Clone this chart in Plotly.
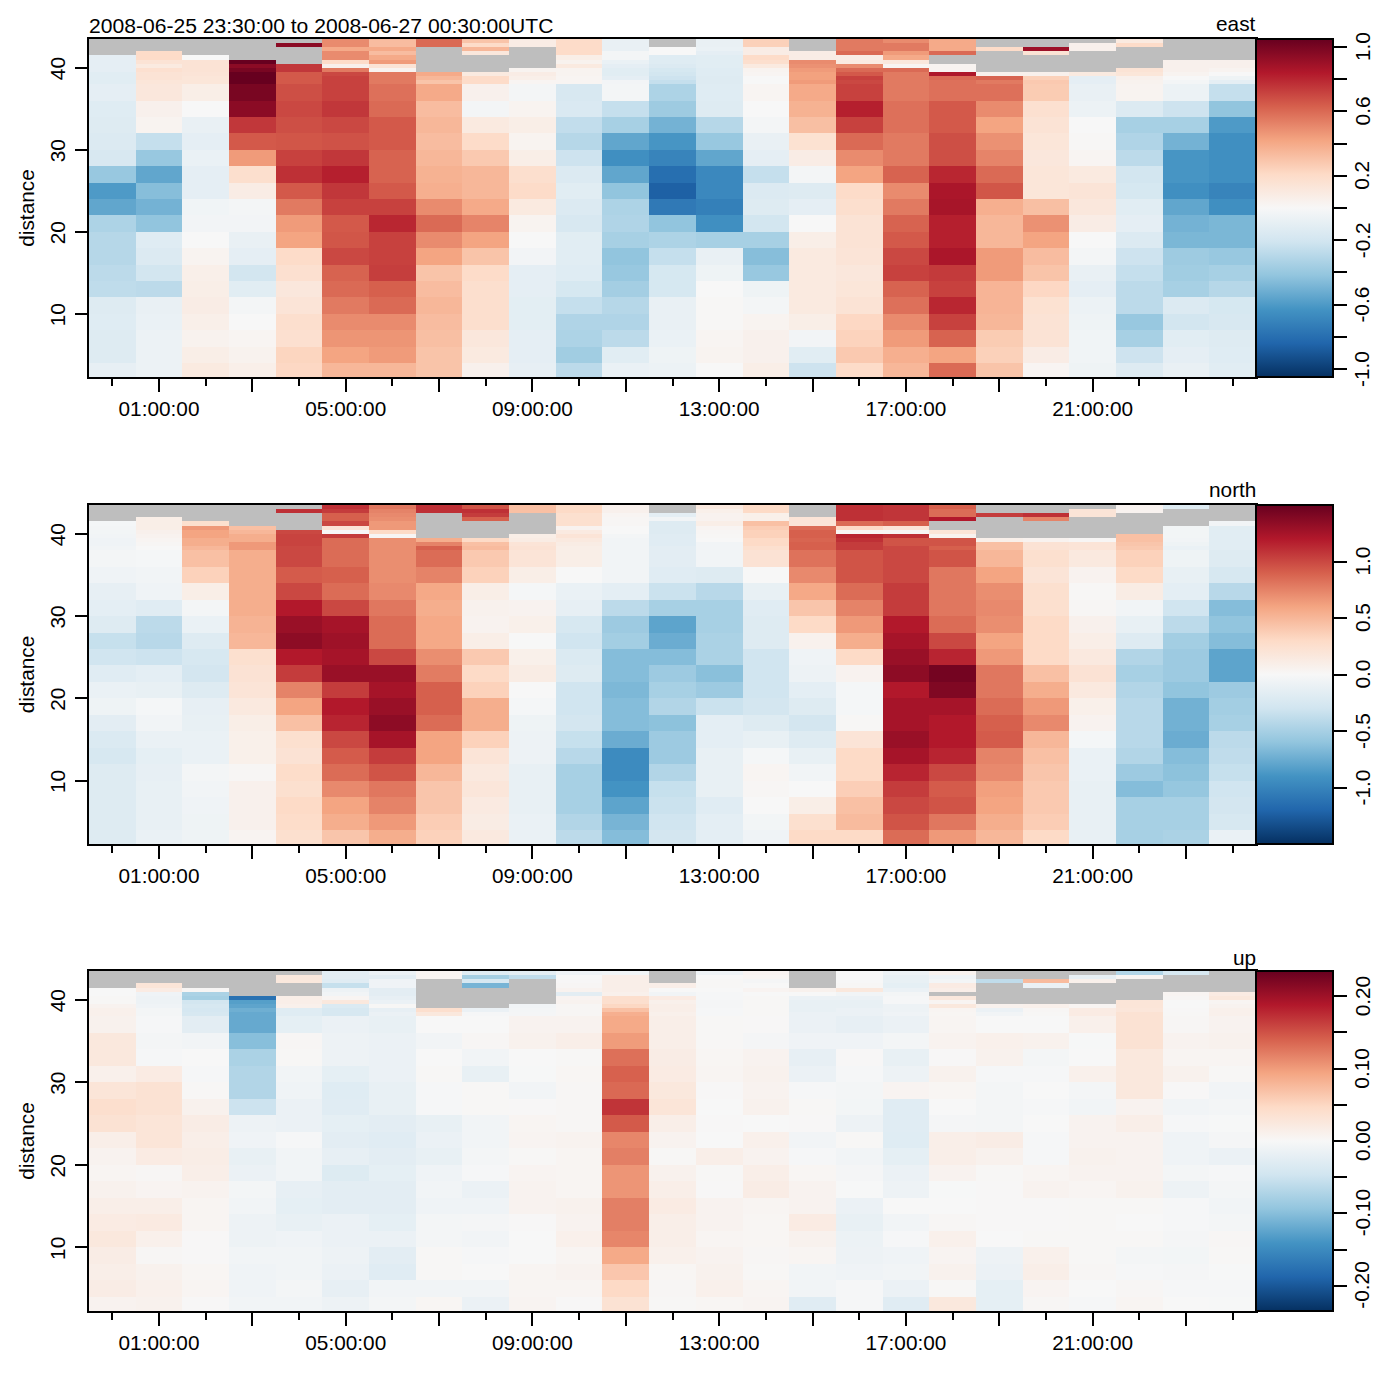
import plotly.graph_objects as go

N = None
hours = [f"2008-06-26 {h:02d}:00:00" for h in range(24)] + ["2008-06-27 00:00:00"]
y_edges = [2.3] + list(range(4, 38, 2)) + [38 + 0.5 * i for i in range(12)]
rdbu = ["#053061", "#2166AC", "#4393C3", "#92C5DE", "#D1E5F0", "#F7F7F7",
        "#FDDBC7", "#F4A582", "#D6604D", "#B2182B", "#67001F"]

# values per time column, hundredths; top rows are 0.5 m bins from 43.5 downward
east_top = [
 [N,N,N,N,-10,-10,-10,-10,-12,-12,-12],[N,N,N,20,20,15,10,17,15,15,13],[N,N,N,N,0,15,15,15,14,13,13],
 [N,N,N,N,N,105,95,100,105,105,105],[N,95,N,N,N,N,75,75,65,65,65],[50,50,40,50,50,20,5,55,70,72,72],
 [33,33,40,33,40,45,15,3,55,55,55],[60,60,N,N,N,N,N,N,40,35,30],[30,20,35,12,N,N,N,N,10,20,20],
 [8,8,N,N,N,N,N,3,8,6,2],[20,20,20,20,7,4,10,3,3,2,2],[-8,-8,-8,-2,-2,-7,-10,-12,-12,-10,-3],
 [N,N,0,0,-13,-13,-15,-18,-20,-22,-25],[-8,-8,-7,-10,-12,-12,-12,-13,-13,-14,-14],[25,25,8,8,20,18,10,3,2,0,0],
 [N,N,N,8,8,50,48,45,43,43,45],[55,55,55,60,8,10,50,60,65,72,70],[50,55,55,45,40,12,2,60,55,55,55],
 [40,40,40,60,N,N,3,3,85,60,58],[N,N,20,N,N,N,N,N,5,62,55],[N,N,90,15,N,N,N,N,5,25,28],
 [N,5,5,N,N,N,N,N,10,-10,-10],[10,20,N,N,N,N,N,15,13,5,4],[N,N,N,N,N,5,5,5,3,0,-2],
 [N,N,N,N,N,5,5,3,0,-5,-10],
]
east_body = [
 [-10,-13,-14,-15,-17,-40,-60,-55,-33,-30,-30,-28,-27,-14,-13,-14,-14,-9],
 [12,5,3,-25,-40,-55,-45,-50,-42,-13,-15,-20,-28,-8,-7,-6,-6,-6],
 [7,0,-8,-10,-7,-10,-10,-4,-3,0,3,6,7,8,6,4,7,10],
 [100,95,75,65,45,18,8,-2,-3,-8,-10,-20,-12,-2,0,2,4,6],
 [68,70,68,66,72,77,65,55,45,42,20,17,12,14,18,17,23,22],
 [72,75,70,67,75,82,75,72,65,66,70,62,60,55,50,47,42,35],
 [58,60,65,65,62,62,65,72,80,72,72,73,63,60,50,47,45,35],
 [40,33,35,33,35,37,38,50,60,50,42,30,33,35,33,32,30,30],
 [5,-2,10,20,28,35,35,40,52,42,30,20,18,18,18,12,10,5],
 [-2,3,7,3,7,18,20,10,3,0,-3,-10,-10,-11,-11,-10,-10,-9],
 [-17,-16,-26,-30,-22,-15,-12,-15,-17,-12,-12,-13,-18,-25,-32,-33,-37,-28],
 [-2,-25,-35,-55,-65,-55,-42,-33,-32,-35,-42,-40,-36,-30,-32,-28,-12,-7],
 [-33,-38,-50,-62,-70,-80,-86,-75,-42,-33,-25,-18,-18,-8,-8,-7,-5,-6],
 [-13,-14,-30,-40,-55,-68,-68,-72,-65,-35,-8,-5,0,1,1,2,3,0],
 [2,0,-2,-8,-10,-25,-15,-14,-20,-35,-45,-40,-5,-2,3,5,5,7],
 [40,37,32,16,8,-2,-14,-10,0,7,10,10,10,10,7,-3,-12,-22],
 [72,82,72,60,50,42,20,18,15,15,14,12,13,15,22,24,28,20],
 [55,58,58,55,55,62,50,55,62,65,70,72,62,58,50,45,38,35],
 [58,65,65,68,68,80,86,87,82,82,86,74,72,80,72,62,42,60],
 [58,50,42,48,52,60,66,38,35,35,45,45,36,36,35,27,25,30],
 [27,17,15,13,12,13,13,32,48,42,33,30,22,16,15,15,8,2],
 [-8,-6,0,1,2,10,14,12,8,0,-2,-8,-10,-6,-5,-4,-4,-5],
 [3,-15,-35,-32,-28,-20,-18,-12,-10,-15,-22,-25,-28,-28,-40,-35,-22,-14],
 [-6,-22,-35,-50,-62,-62,-65,-55,-50,-48,-38,-37,-35,-15,-20,-12,-10,-8],
 [-25,-42,-60,-65,-65,-65,-70,-65,-48,-48,-40,-35,-30,-18,-17,-14,-13,-12],
]
north_top = [
 [N,N,N,N,-2,-3,-4,-5,-6,-6,-5],[N,N,N,10,10,10,7,5,3,2,0],[N,N,N,N,25,65,60,60,55,55,50],
 [N,N,N,N,N,45,50,55,55,65,65],[N,110,N,N,N,N,100,102,102,102,100],[110,105,90,90,100,20,0,105,85,85,85],
 [80,75,72,70,65,65,30,2,70,70,70],[110,110,N,N,N,N,N,N,55,75,90],[95,110,105,90,N,N,N,N,30,45,48],
 [45,45,N,N,N,N,N,10,12,20,22],[30,30,25,25,25,5,14,20,15,12,10],[7,7,3,2,2,0,0,-3,-5,-5,-5],
 [N,N,-15,-5,-20,-20,-20,-18,-18,-18,-16],[15,8,5,5,10,3,2,1,0,-5,-5],[30,30,8,8,45,38,35,35,30,30,25],
 [N,N,N,20,20,85,90,90,88,90,90],[110,110,110,110,85,30,2,115,110,105,105],[108,108,108,108,90,20,2,110,95,95,100],
 [90,85,85,120,N,N,20,5,95,95,90],[N,N,105,N,N,N,N,N,8,45,45],[N,N,110,75,N,N,N,N,5,22,22],
 [N,20,20,N,N,N,N,N,2,20,20],[5,5,N,N,N,N,N,45,45,42,40],[-20,N,N,N,N,-4,-4,-4,-5,-7,-10],
 [N,N,N,N,-5,-17,-17,-17,-17,-17,-17],
]
north_body = [
 [-3,-6,-13,-15,-20,-35,-30,-18,-10,-7,-16,-22,-25,-20,-20,-20,-20,-20],
 [-2,-5,-6,-18,-40,-42,-32,-15,-12,-2,-5,-10,-14,-13,-12,-12,-12,-10],
 [45,35,10,-3,-10,-20,-25,-28,-20,-13,-12,-10,-10,-3,-5,-6,-7,-7],
 [55,55,55,55,52,50,25,22,20,15,10,8,8,2,7,7,7,4],
 [100,92,100,120,130,135,120,105,75,60,45,25,22,28,25,30,28,25],
 [85,90,85,100,125,128,125,130,105,120,115,100,92,85,72,60,55,42],
 [70,70,72,80,85,85,100,130,125,130,135,125,105,95,80,75,65,55],
 [85,75,58,55,58,58,70,78,90,90,85,60,60,50,42,42,38,35],
 [40,35,10,6,5,10,40,30,35,55,55,35,20,15,18,14,12,15],
 [20,10,-2,5,8,0,8,12,0,-2,-7,-8,-8,-12,-12,-12,-10,-10],
 [10,0,-10,-13,-25,-30,-22,-20,-30,-30,-28,-35,-42,-50,-50,-50,-45,-40],
 [-5,-5,-15,-40,-55,-52,-65,-65,-68,-65,-65,-75,-95,-95,-90,-80,-70,-65],
 [-16,-18,-33,-50,-80,-75,-65,-55,-50,-45,-62,-55,-55,-45,-35,-33,-30,-28],
 [-5,-20,-42,-50,-50,-48,-48,-63,-55,-33,-15,-15,-12,-12,-12,-18,-15,-15],
 [22,0,-12,-18,-20,-20,-30,-30,-30,-28,-20,-12,-2,3,2,0,-4,-6],
 [82,72,58,42,30,6,-6,-8,-15,-20,-28,-20,-12,-5,0,10,25,30],
 [95,95,85,75,65,55,30,5,-2,-2,1,20,30,30,37,45,48,30],
 [100,100,105,105,120,125,130,135,120,125,125,130,125,115,105,100,95,85],
 [95,80,80,80,85,100,115,145,140,125,120,120,115,100,92,95,80,65],
 [50,60,70,72,70,60,65,80,80,85,90,92,75,72,62,60,55,50],
 [25,20,25,25,30,30,30,45,55,65,72,50,45,42,40,40,38,30],
 [15,5,1,2,7,10,15,22,15,8,5,-2,-10,-10,-12,-12,-12,-12],
 [35,30,12,-5,-12,-20,-45,-50,-45,-42,-42,-42,-45,-55,-65,-50,-50,-50],
 [-7,-12,-15,-30,-40,-52,-55,-55,-60,-72,-72,-75,-65,-62,-58,-50,-50,-48],
 [-20,-25,-42,-65,-60,-65,-80,-80,-55,-52,-50,-40,-38,-35,-30,-28,-25,-10],
]
# thousandths
up_top = [
 [N,N,N,N,0,0,2,2,8,12,12],[N,N,N,30,20,-10,-12,-12,-10,-5,-5],[N,N,N,N,3,-75,-80,-45,-40,-42,-40],
 [N,N,N,N,N,N,-175,-130,-125,-115,-120],[N,25,25,N,N,N,15,15,12,-30,-30],[-25,-25,-28,-55,-12,-8,5,25,-35,-40,-40],
 [-15,-25,-10,-10,-25,-25,-20,-15,2,-20,-15],[5,5,N,N,N,N,N,N,N,40,25],[-30,-80,-40,-110,N,N,N,N,N,-15,-2],
 [-25,-60,N,N,N,N,N,N,-8,-5,-4],[-10,0,1,3,8,-25,6,8,3,3,3],[-8,15,15,15,15,12,40,40,50,70,85],
 [N,N,N,15,0,-8,20,12,15,15,12],[-10,0,2,2,0,-2,-2,-4,-4,-3,-3],[6,4,-4,0,6,0,2,2,2,2,2],
 [N,N,N,N,10,0,-15,-18,-18,-18,-15],[0,0,0,2,25,-8,-15,-18,-18,-15,-15],[-12,-18,-18,-22,-15,-5,-3,-2,-12,-12,-10],
 [8,-10,-5,20,15,N,25,5,25,5,4],[N,N,-60,N,N,N,N,N,10,-15,-8],[N,N,75,-15,N,N,N,N,12,3,2],
 [N,-20,12,N,N,N,N,N,5,20,20],[-70,5,N,N,N,N,N,30,30,28,35],[-40,N,N,N,N,5,3,0,0,1,2],
 [N,N,N,N,N,20,25,5,8,12,12],
]
up_body = [
 [10,25,25,12,30,40,35,15,8,5,10,15,20,25,18,15,18,8],
 [-3,-5,-3,20,35,35,30,30,20,3,6,15,22,12,3,10,12,10],
 [-25,-8,0,-3,2,10,18,15,17,15,8,5,5,1,1,4,5,1],
 [-120,-100,-75,-70,-70,-50,-12,-10,-18,-15,-5,-8,-12,-12,-8,-10,-10,-8],
 [-22,3,2,-8,-10,-15,-15,-3,-8,-8,-20,-22,-18,-10,-8,-8,-5,-8],
 [-15,-12,-12,-22,-30,-28,-22,-25,-20,-32,-25,-25,-15,-15,-12,-15,-20,-12],
 [-18,-15,-15,-15,-18,-18,-25,-28,-25,-22,-25,-25,-22,-15,-25,-28,-8,-5],
 [0,-8,0,2,-2,-2,-18,-15,-18,-10,-8,-10,-5,-5,2,2,-8,4],
 [0,3,-8,-18,2,2,-8,-8,-5,-3,-15,-10,-4,-8,-2,0,-8,-15],
 [8,10,0,-1,-8,1,5,6,2,6,8,8,1,0,0,5,5,6],
 [8,15,2,4,3,3,3,8,5,5,5,10,8,12,5,8,5,1],
 [90,100,130,140,135,170,145,115,120,105,105,120,120,115,90,65,48,35],
 [15,15,18,20,25,30,15,8,2,10,15,20,15,15,12,4,3,2],
 [2,2,4,5,1,0,1,0,15,2,1,8,8,5,8,10,12,4],
 [1,-4,8,10,8,10,0,12,8,15,18,5,4,4,3,2,5,6],
 [-15,-10,-20,-15,-3,2,1,-8,-2,4,8,8,20,10,5,-8,-8,-28],
 [-20,-10,1,-2,-5,-6,-12,2,-8,-4,-1,-15,-18,-14,-12,-10,-3,-2],
 [-15,-5,-18,-12,6,-28,-28,-30,-22,-15,-12,0,-8,-2,-10,-8,-15,-28],
 [5,8,1,10,4,0,-4,15,15,8,-1,0,3,12,6,10,2,25],
 [0,12,10,-3,-5,-5,-5,18,10,2,1,1,1,0,-12,-15,-22,-22],
 [0,10,-5,-3,0,-3,0,-2,-2,5,8,1,1,2,12,15,6,3],
 [12,-1,0,12,-5,-8,8,8,10,8,5,2,2,2,2,3,0,-2],
 [35,35,25,25,25,8,15,8,8,8,10,2,0,2,-5,-3,3,5],
 [3,8,5,10,1,-8,-3,-10,-10,-5,-12,-2,-2,-4,-6,-4,-2,0],
 [8,10,5,2,-8,-5,-1,-4,-15,-3,-5,-8,-5,3,2,-1,-3,-1],
]

major_ticks = [f"2008-06-26 {h:02d}:00:00" for h in range(1, 24, 2)]
major_text = [f"{h:02d}:00:00" if (h - 1) % 4 == 0 else "" for h in range(1, 24, 2)]
minor_ticks = [f"2008-06-26 {h:02d}:00:00" for h in range(0, 24, 2)] + ["2008-06-27 00:00:00"]
y_ticks = [10, 20, 30, 40]

east_cb = [-1.0, -0.8, -0.6, -0.4, -0.2, 0.0, 0.2, 0.4, 0.6, 0.8, 1.0]
east_cb_text = ["-1.0", "", "-0.6", "", "-0.2", "", "0.2", "", "0.6", "", "1.0"]
north_cb = [-1.0, -0.5, 0.0, 0.5, 1.0]
north_cb_text = ["-1.0", "-0.5", "0.0", "0.5", "1.0"]
up_cb = [-0.20, -0.15, -0.10, -0.05, 0.0, 0.05, 0.10, 0.15, 0.20]
up_cb_text = ["-0.20", "", "-0.10", "", "0.00", "", "0.10", "", "0.20"]

W = 1400.0
FS = 20.8
FONT = "Liberation Sans, Arial, sans-serif"
X0, X1 = 89, 1256
panels = [
    ("east", east_top, east_body, 0.01, 1.05, east_cb, east_cb_text, 39, 377, 23),
    ("north", north_top, north_body, 0.01, 1.5, north_cb, north_cb_text, 505, 844, 489),
    ("up", up_top, up_body, 0.001, 0.235, up_cb, up_cb_text, 971, 1311, 957),
]
txt = dict(size=FS, color="black", family=FONT)

fig = go.Figure()
annotations = [dict(text="2008-06-25 23:30:00 to 2008-06-27 00:30:00UTC", xref="paper", yref="paper",
                    x=87 / W, y=1 - 25.5 / W, xanchor="left", yanchor="middle", showarrow=False,
                    font=dict(size=21.1, color="black", family=FONT))]
layout = {}
for i, (name, top, body, scale, zlim, cbv, cbt, py0, py1, ty) in enumerate(panels, start=1):
    rows = []
    for r in range(len(body[0]) - 1, -1, -1):
        rows.append([None if col[r] is None else col[r] * scale for col in body])
    for r in range(len(top[0]) - 1, -1, -1):
        rows.append([None if col[r] is None else col[r] * scale for col in top])
    fig.add_trace(go.Heatmap(
        x=hours, y=y_edges, z=rows, zmin=-zlim, zmax=zlim, colorscale=rdbu, hoverongaps=False,
        xaxis=f"x{i}", yaxis=f"y{i}",
        colorbar=dict(
            x=X1 / W, xanchor="left", y=1 - py1 / W, yanchor="bottom", len=(py1 - py0) / W, lenmode="fraction",
            thickness=77, thicknessmode="pixels", xpad=0, ypad=0, outlinecolor="black", outlinewidth=2,
            tickmode="array", tickvals=cbv, ticks="outside", ticklen=13, tickwidth=1.5,
            tickcolor="black", showticklabels=False,
        ),
    ))
    layout[f"xaxis{i}" if i > 1 else "xaxis"] = dict(
        domain=[X0 / W, X1 / W], anchor=f"y{i}", type="date",
        range=["2008-06-25 23:30:00", "2008-06-27 00:30:00"],
        tickmode="array", tickvals=major_ticks, ticktext=major_text, ticks="outside", ticklen=13, tickwidth=1.5,
        tickcolor="black", tickangle=0, showgrid=False, zeroline=False, showline=True, linecolor="black",
        linewidth=2, mirror=True, ticklabelstandoff=-1, tickfont=txt,
        minor=dict(tickmode="array", tickvals=minor_ticks, ticks="outside", ticklen=7, tickwidth=1.5,
                   tickcolor="black", showgrid=False),
    )
    layout[f"yaxis{i}" if i > 1 else "yaxis"] = dict(
        domain=[1 - py1 / W, 1 - py0 / W], anchor=f"x{i}", range=[2.3, 43.5],
        tickmode="array", tickvals=y_ticks, ticks="outside", ticklen=12, tickwidth=1.5, tickcolor="black",
        tickangle=-90, showgrid=False, zeroline=False, showline=True, linecolor="black", linewidth=2, mirror=True,
        tickfont=txt, ticklabelstandoff=2, ticklabelshift=4,
        title=dict(text="distance", standoff=5, font=txt),
    )
    annotations.append(dict(text=name, xref="paper", yref="paper", x=1258 / W, y=1 - ty / W, xanchor="right",
                            yanchor="middle", showarrow=False, font=txt))
    for v, t in zip(cbv, cbt):
        if t:
            frac = (v + zlim) / (2 * zlim)
            annotations.append(dict(text=t, xref="paper", yref="paper", x=1362 / W,
                                    y=(1 - py1 / W) + frac * (py1 - py0) / W, xanchor="center", yanchor="middle",
                                    textangle=-90, showarrow=False, font=txt))

fig.update_layout(width=1400, height=1400, margin=dict(l=0, r=0, t=0, b=0), paper_bgcolor="white",
                  plot_bgcolor="#BEBEBE", showlegend=False, annotations=annotations, **layout)
fig.write_html("out.html", config={"displayModeBar": False},
               post_script="document.body.style.margin='0';document.documentElement.style.overflow='hidden';")
